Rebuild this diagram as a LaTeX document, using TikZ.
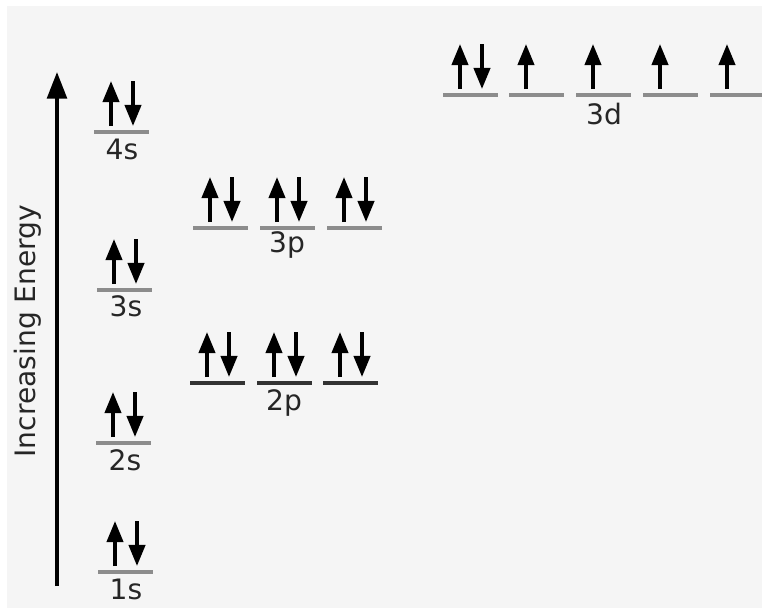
\documentclass[tikz,border=0pt]{standalone}
\usepackage{fontspec}
\setmainfont{DejaVu Sans}
\usetikzlibrary{arrows.meta, calc}

\definecolor{paper}{HTML}{F5F5F5}

% one orbital: name, left x, line y, number of electrons (1 or 2)
\newcommand{\orbital}[4]{%
  \coordinate (#1) at (#2,#3);
  \draw[lvl] (#1) -- ++(55,0);
  \draw[spin] ($(#1)+(17,-6)$) -- ++(0,-45);
  \ifnum#4>1 \draw[spin] ($(#1)+(39,-51)$) -- ++(0,45);\fi
}

\begin{document}
\begin{tikzpicture}[
    x=0.025cm, y=-0.025cm,
    font=\fontsize{20}{23}\selectfont,
    lvl/.style   = {draw=black!45, line width=2.8pt},
    spin/.style  = {-{Triangle[length=15pt, width=11.5pt]}, line width=2.6pt},
    axis/.style  = {-{Triangle[length=19pt, width=14pt]}, line width=2.7pt},
    olab/.style  = {anchor=base, text=black!85, inner sep=0pt}
  ]

  \useasboundingbox (0,0) rectangle (762,608);
  \fill[white] (0,0) rectangle (762,608);
  \fill[paper] (7,6) rectangle (762,608);

  % --- energy axis ---
  \coordinate (Ebot) at (57,586);
  \coordinate (Etop) at (57,72);
  \draw[axis] (Ebot) -- (Etop);
  \node[rotate=90, text=black!85] (elab) at (28,331) {Increasing Energy};

  % --- s orbitals ---
  \orbital{s1}{98}{572}{2}
  \orbital{s2}{96}{443}{2}
  \orbital{s3}{97}{290}{2}
  \orbital{s4}{94}{132}{2}

  % --- 2p (darker lines) ---
  \begin{scope}[lvl/.style={draw=black!80, line width=2.2pt}]
    \orbital{pa}{190}{383}{2}
    \orbital{pb}{257}{383}{2}
    \orbital{pc}{323}{383}{2}
  \end{scope}

  % --- 3p ---
  \orbital{qa}{193}{228}{2}
  \orbital{qb}{260}{228}{2}
  \orbital{qc}{327}{228}{2}

  % --- 3d ---
  \orbital{da}{443}{95}{2}
  \foreach \n/\x in {db/509, dc/576, dd/643, de/710}
    {\orbital{\n}{\x}{95}{1}}

  % --- labels ---
  \node[olab] (l1s) at ($(s1)+(28,27)$) {1s};
  \node[olab] (l2s) at ($(s2)+(29,27)$) {2s};
  \node[olab] (l3s) at ($(s3)+(29,26)$) {3s};
  \node[olab] (l4s) at ($(s4)+(28,27)$) {4s};
  \node[olab] (l2p) at ($(pb)+(27,27)$) {2p};
  \node[olab] (l3p) at ($(qb)+(27,24)$) {3p};
  \node[olab] (l3d) at ($(dc)+(28,29)$) {3d};

\end{tikzpicture}
\end{document}
